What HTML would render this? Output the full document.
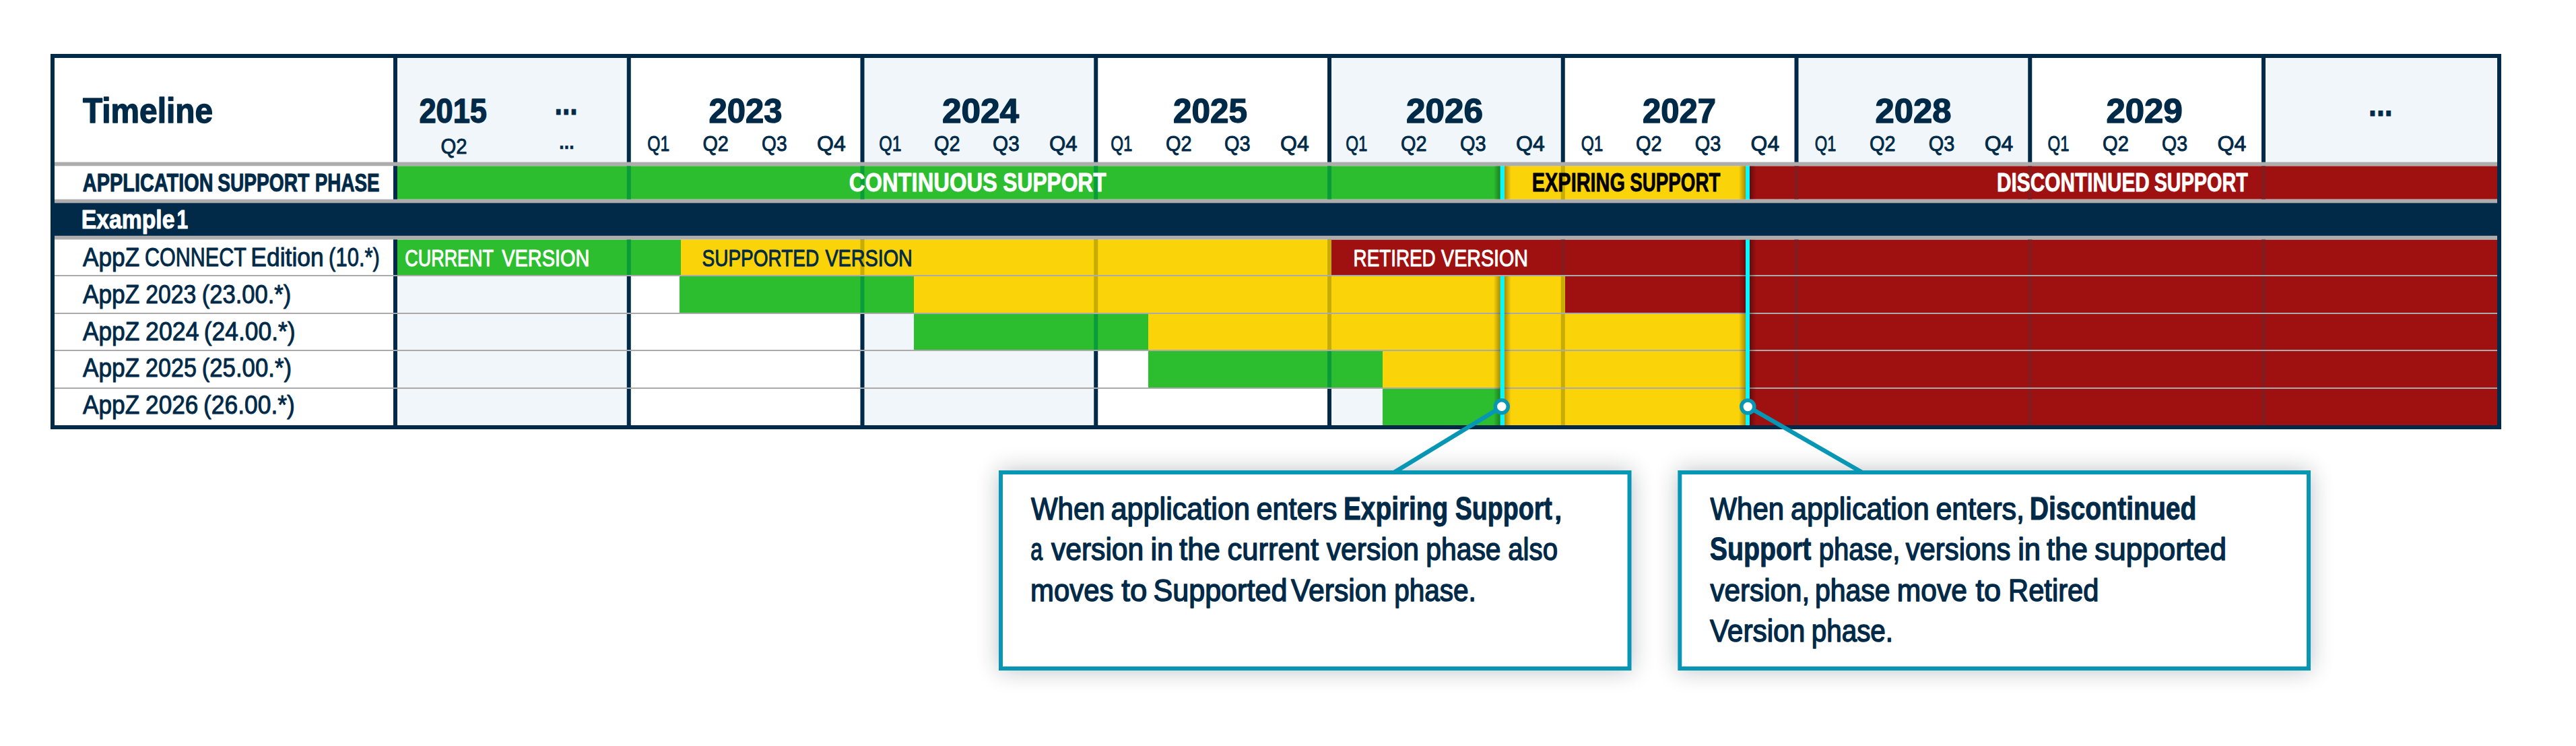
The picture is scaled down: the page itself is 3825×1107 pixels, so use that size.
<!DOCTYPE html>
<html><head><meta charset="utf-8"><title>Timeline</title>
<style>html,body{margin:0;padding:0;background:#fff}svg{display:block}text{font-family:"Liberation Sans",sans-serif;white-space:pre}</style>
</head><body>
<svg width="3825" height="1107" viewBox="0 0 3825 1107">
<rect width="3825" height="1107" fill="#fff"/>
<rect x="584.00" y="86.00" width="346.75" height="545.00" fill="#f1f6fa"/>
<rect x="1277.50" y="86.00" width="346.75" height="545.00" fill="#f1f6fa"/>
<rect x="1971.00" y="86.00" width="346.75" height="545.00" fill="#f1f6fa"/>
<rect x="2664.50" y="86.00" width="346.75" height="545.00" fill="#f1f6fa"/>
<rect x="3358.00" y="86.00" width="350.00" height="545.00" fill="#f1f6fa"/>
<rect x="584.00" y="86.00" width="6.00" height="545.00" fill="#002a48"/>
<rect x="930.75" y="86.00" width="6.00" height="545.00" fill="#002a48"/>
<rect x="1277.50" y="86.00" width="6.00" height="545.00" fill="#002a48"/>
<rect x="1624.25" y="86.00" width="6.00" height="545.00" fill="#002a48"/>
<rect x="1971.00" y="86.00" width="6.00" height="545.00" fill="#002a48"/>
<rect x="2317.75" y="86.00" width="6.00" height="545.00" fill="#002a48"/>
<rect x="2664.50" y="86.00" width="6.00" height="545.00" fill="#002a48"/>
<rect x="3011.25" y="86.00" width="6.00" height="545.00" fill="#002a48"/>
<rect x="3358.00" y="86.00" width="6.00" height="545.00" fill="#002a48"/>
<rect x="590.00" y="246.30" width="1637.80" height="49.40" fill="#2cbe2e"/>
<rect x="930.75" y="246.30" width="6.00" height="49.40" fill="#0a9c3a"/>
<rect x="1277.50" y="246.30" width="6.00" height="49.40" fill="#0a9c3a"/>
<rect x="1624.25" y="246.30" width="6.00" height="49.40" fill="#0a9c3a"/>
<rect x="1971.00" y="246.30" width="6.00" height="49.40" fill="#0a9c3a"/>
<rect x="2233.80" y="246.30" width="358.20" height="49.40" fill="#fad308"/>
<rect x="2317.75" y="246.30" width="6.00" height="49.40" fill="#c8ac06"/>
<rect x="2598.00" y="246.30" width="1110.00" height="49.40" fill="#9f1010"/>
<rect x="2664.50" y="246.30" width="6.00" height="49.40" fill="#871a1d"/>
<rect x="3011.25" y="246.30" width="6.00" height="49.40" fill="#871a1d"/>
<rect x="3358.00" y="246.30" width="6.00" height="49.40" fill="#871a1d"/>
<rect x="590.00" y="355.50" width="421.00" height="52.50" fill="#2cbe2e"/>
<rect x="930.75" y="355.50" width="6.00" height="52.50" fill="#0a9c3a"/>
<rect x="1011.00" y="355.50" width="966.00" height="52.50" fill="#fad308"/>
<rect x="1277.50" y="355.50" width="6.00" height="52.50" fill="#c8ac06"/>
<rect x="1624.25" y="355.50" width="6.00" height="52.50" fill="#c8ac06"/>
<rect x="1971.00" y="355.50" width="6.00" height="52.50" fill="#c8ac06"/>
<rect x="1977.00" y="355.50" width="1731.00" height="52.50" fill="#9f1010"/>
<rect x="2317.75" y="355.50" width="6.00" height="52.50" fill="#871a1d"/>
<rect x="2664.50" y="355.50" width="6.00" height="52.50" fill="#871a1d"/>
<rect x="3011.25" y="355.50" width="6.00" height="52.50" fill="#871a1d"/>
<rect x="3358.00" y="355.50" width="6.00" height="52.50" fill="#871a1d"/>
<rect x="1009.00" y="410.00" width="348.00" height="54.00" fill="#2cbe2e"/>
<rect x="1277.50" y="410.00" width="6.00" height="54.00" fill="#0a9c3a"/>
<rect x="1357.00" y="410.00" width="967.00" height="54.00" fill="#fad308"/>
<rect x="1624.25" y="410.00" width="6.00" height="54.00" fill="#c8ac06"/>
<rect x="1971.00" y="410.00" width="6.00" height="54.00" fill="#c8ac06"/>
<rect x="2317.75" y="410.00" width="6.00" height="54.00" fill="#c8ac06"/>
<rect x="2324.00" y="410.00" width="1384.00" height="54.00" fill="#9f1010"/>
<rect x="2664.50" y="410.00" width="6.00" height="54.00" fill="#871a1d"/>
<rect x="3011.25" y="410.00" width="6.00" height="54.00" fill="#871a1d"/>
<rect x="3358.00" y="410.00" width="6.00" height="54.00" fill="#871a1d"/>
<rect x="1357.00" y="466.00" width="348.00" height="53.00" fill="#2cbe2e"/>
<rect x="1624.25" y="466.00" width="6.00" height="53.00" fill="#0a9c3a"/>
<rect x="1705.00" y="466.00" width="887.00" height="53.00" fill="#fad308"/>
<rect x="1971.00" y="466.00" width="6.00" height="53.00" fill="#c8ac06"/>
<rect x="2317.75" y="466.00" width="6.00" height="53.00" fill="#c8ac06"/>
<rect x="2598.00" y="466.00" width="1110.00" height="53.00" fill="#9f1010"/>
<rect x="2664.50" y="466.00" width="6.00" height="53.00" fill="#871a1d"/>
<rect x="3011.25" y="466.00" width="6.00" height="53.00" fill="#871a1d"/>
<rect x="3358.00" y="466.00" width="6.00" height="53.00" fill="#871a1d"/>
<rect x="1705.00" y="521.00" width="348.00" height="54.00" fill="#2cbe2e"/>
<rect x="1971.00" y="521.00" width="6.00" height="54.00" fill="#0a9c3a"/>
<rect x="2053.00" y="521.00" width="539.00" height="54.00" fill="#fad308"/>
<rect x="2317.75" y="521.00" width="6.00" height="54.00" fill="#c8ac06"/>
<rect x="2598.00" y="521.00" width="1110.00" height="54.00" fill="#9f1010"/>
<rect x="2664.50" y="521.00" width="6.00" height="54.00" fill="#871a1d"/>
<rect x="3011.25" y="521.00" width="6.00" height="54.00" fill="#871a1d"/>
<rect x="3358.00" y="521.00" width="6.00" height="54.00" fill="#871a1d"/>
<rect x="2053.00" y="577.00" width="174.80" height="54.00" fill="#2cbe2e"/>
<rect x="2233.80" y="577.00" width="358.20" height="54.00" fill="#fad308"/>
<rect x="2317.75" y="577.00" width="6.00" height="54.00" fill="#c8ac06"/>
<rect x="2598.00" y="577.00" width="1110.00" height="54.00" fill="#9f1010"/>
<rect x="2664.50" y="577.00" width="6.00" height="54.00" fill="#871a1d"/>
<rect x="3011.25" y="577.00" width="6.00" height="54.00" fill="#871a1d"/>
<rect x="3358.00" y="577.00" width="6.00" height="54.00" fill="#871a1d"/>
<rect x="81.00" y="300.80" width="3627.00" height="49.50" fill="#002a48"/>
<rect x="81.00" y="240.50" width="3627.00" height="5.80" fill="#adadad"/>
<rect x="81.00" y="295.70" width="3627.00" height="5.60" fill="#adadad"/>
<rect x="81.00" y="349.80" width="3627.00" height="5.70" fill="#adadad"/>
<rect x="81.00" y="408.00" width="3627.00" height="2.00" fill="#aaaaaa"/>
<rect x="81.00" y="464.00" width="3627.00" height="2.00" fill="#aaaaaa"/>
<rect x="81.00" y="519.00" width="3627.00" height="2.00" fill="#aaaaaa"/>
<rect x="81.00" y="575.00" width="3627.00" height="2.00" fill="#aaaaaa"/>
<defs>
<linearGradient id="shL" x1="0" x2="1" y1="0" y2="0"><stop offset="0" stop-color="#000" stop-opacity="0"/><stop offset="1" stop-color="#000" stop-opacity="0.34"/></linearGradient>
<linearGradient id="shR" x1="0" x2="1" y1="0" y2="0"><stop offset="0" stop-color="#000" stop-opacity="0.34"/><stop offset="1" stop-color="#000" stop-opacity="0"/></linearGradient>
<filter id="boxsh" x="-10%" y="-25%" width="120%" height="150%"><feGaussianBlur stdDeviation="17"/></filter>
</defs>
<rect x="2217.80" y="246.30" width="10.00" height="49.40" fill="url(#shL)"/>
<rect x="2233.80" y="246.30" width="10.00" height="49.40" fill="url(#shR)"/>
<rect x="2227.80" y="246.30" width="6.00" height="49.40" fill="#04f8fd"/>
<rect x="2217.80" y="410.00" width="10.00" height="221.00" fill="url(#shL)"/>
<rect x="2233.80" y="410.00" width="10.00" height="221.00" fill="url(#shR)"/>
<rect x="2227.80" y="410.00" width="6.00" height="221.00" fill="#04f8fd"/>
<rect x="2582.00" y="246.30" width="10.00" height="49.40" fill="url(#shL)"/>
<rect x="2598.00" y="246.30" width="10.00" height="49.40" fill="url(#shR)"/>
<rect x="2592.00" y="246.30" width="6.00" height="49.40" fill="#04f8fd"/>
<rect x="2582.00" y="355.50" width="10.00" height="275.50" fill="url(#shL)"/>
<rect x="2598.00" y="355.50" width="10.00" height="275.50" fill="url(#shR)"/>
<rect x="2592.00" y="355.50" width="6.00" height="275.50" fill="#04f8fd"/>
<rect x="78" y="83" width="3633" height="551" fill="none" stroke="#002a48" stroke-width="6"/>
<rect x="1483" y="698" width="939.5" height="297" fill="#0a1a2a" opacity="0.27" filter="url(#boxsh)"/>
<rect x="2491.3" y="698" width="939.6999999999998" height="297" fill="#0a1a2a" opacity="0.27" filter="url(#boxsh)"/>
<line x1="2230.5" y1="603.3" x2="2070" y2="701" stroke="#0797b5" stroke-width="6.5"/>
<line x1="2595.5" y1="603.5" x2="2765" y2="701" stroke="#0797b5" stroke-width="6.5"/>
<rect x="1486" y="701" width="933.5" height="291" fill="#fff" stroke="#0797b5" stroke-width="6"/>
<rect x="2494.3" y="701" width="933.6999999999998" height="291" fill="#fff" stroke="#0797b5" stroke-width="6"/>
<circle cx="2229.8" cy="603.3" r="9.5" fill="#fff" stroke="#0797b5" stroke-width="5.5"/>
<circle cx="2595.3" cy="603.5" r="9.5" fill="#fff" stroke="#0797b5" stroke-width="5.5"/>
<text transform="translate(122.90,182.40) scale(0.9350,1)" font-weight="700" font-size="51.16" fill="#002a48" stroke="#002a48" stroke-width="1.4" stroke-linejoin="round">Timeline</text>
<text transform="translate(622.39,182.30) scale(0.9055,1)" font-weight="700" font-size="49.93" fill="#002a48" stroke="#002a48" stroke-width="1.4" stroke-linejoin="round">2015</text>
<text transform="translate(1052.42,182.30) scale(0.9817,1)" font-weight="700" font-size="49.93" fill="#002a48" stroke="#002a48" stroke-width="1.4" stroke-linejoin="round">2023</text>
<text transform="translate(1398.97,182.30) scale(1.0273,1)" font-weight="700" font-size="49.93" fill="#002a48" stroke="#002a48" stroke-width="1.4" stroke-linejoin="round">2024</text>
<text transform="translate(1742.01,182.30) scale(0.9908,1)" font-weight="700" font-size="49.93" fill="#002a48" stroke="#002a48" stroke-width="1.4" stroke-linejoin="round">2025</text>
<text transform="translate(2087.97,182.30) scale(1.0275,1)" font-weight="700" font-size="49.93" fill="#002a48" stroke="#002a48" stroke-width="1.4" stroke-linejoin="round">2026</text>
<text transform="translate(2439.02,182.30) scale(0.9817,1)" font-weight="700" font-size="49.93" fill="#002a48" stroke="#002a48" stroke-width="1.4" stroke-linejoin="round">2027</text>
<text transform="translate(2784.48,182.30) scale(1.0183,1)" font-weight="700" font-size="49.93" fill="#002a48" stroke="#002a48" stroke-width="1.4" stroke-linejoin="round">2028</text>
<text transform="translate(3127.48,182.30) scale(1.0202,1)" font-weight="700" font-size="49.93" fill="#002a48" stroke="#002a48" stroke-width="1.4" stroke-linejoin="round">2029</text>
<text transform="translate(823.58,169.50) scale(0.8056,1)" font-weight="700" font-size="50.87" fill="#002a48" stroke="#002a48" stroke-width="1.0" stroke-linejoin="round">...</text>
<text transform="translate(3517.09,171.50) scale(0.8361,1)" font-weight="700" font-size="50.87" fill="#002a48" stroke="#002a48" stroke-width="1.0" stroke-linejoin="round">...</text>
<text transform="translate(654.56,228.25) scale(0.9375,1)" font-weight="400" font-size="31.29" fill="#002a48" stroke="#002a48" stroke-width="0.9" stroke-linejoin="round">Q2</text>
<text transform="translate(830.35,220.70) scale(0.8261,1)" font-weight="700" font-size="32.27" fill="#002a48" stroke="#002a48" stroke-width="0.6" stroke-linejoin="round">...</text>
<text transform="translate(961.21,224.15) scale(0.7900,1)" font-weight="400" font-size="31.29" fill="#002a48" stroke="#002a48" stroke-width="0.9" stroke-linejoin="round">Q1</text>
<text transform="translate(1043.38,224.15) scale(0.9225,1)" font-weight="400" font-size="31.29" fill="#002a48" stroke="#002a48" stroke-width="0.9" stroke-linejoin="round">Q2</text>
<text transform="translate(1131.10,224.15) scale(0.9000,1)" font-weight="400" font-size="31.29" fill="#002a48" stroke="#002a48" stroke-width="0.9" stroke-linejoin="round">Q3</text>
<text transform="translate(1212.97,224.15) scale(1.0250,1)" font-weight="400" font-size="31.29" fill="#002a48" stroke="#002a48" stroke-width="0.9" stroke-linejoin="round">Q4</text>
<text transform="translate(1305.20,224.15) scale(0.8000,1)" font-weight="400" font-size="31.29" fill="#002a48" stroke="#002a48" stroke-width="0.9" stroke-linejoin="round">Q1</text>
<text transform="translate(1387.08,224.15) scale(0.9250,1)" font-weight="400" font-size="31.29" fill="#002a48" stroke="#002a48" stroke-width="0.9" stroke-linejoin="round">Q2</text>
<text transform="translate(1474.05,224.15) scale(0.9500,1)" font-weight="400" font-size="31.29" fill="#002a48" stroke="#002a48" stroke-width="0.9" stroke-linejoin="round">Q3</text>
<text transform="translate(1558.00,224.15) scale(1.0000,1)" font-weight="400" font-size="31.29" fill="#002a48" stroke="#002a48" stroke-width="0.9" stroke-linejoin="round">Q4</text>
<text transform="translate(1649.22,224.15) scale(0.7750,1)" font-weight="400" font-size="31.29" fill="#002a48" stroke="#002a48" stroke-width="0.9" stroke-linejoin="round">Q1</text>
<text transform="translate(1731.08,224.15) scale(0.9250,1)" font-weight="400" font-size="31.29" fill="#002a48" stroke="#002a48" stroke-width="0.9" stroke-linejoin="round">Q2</text>
<text transform="translate(1818.08,224.15) scale(0.9250,1)" font-weight="400" font-size="31.29" fill="#002a48" stroke="#002a48" stroke-width="0.9" stroke-linejoin="round">Q3</text>
<text transform="translate(1900.97,224.15) scale(1.0250,1)" font-weight="400" font-size="31.29" fill="#002a48" stroke="#002a48" stroke-width="0.9" stroke-linejoin="round">Q4</text>
<text transform="translate(1998.22,224.15) scale(0.7750,1)" font-weight="400" font-size="31.29" fill="#002a48" stroke="#002a48" stroke-width="0.9" stroke-linejoin="round">Q1</text>
<text transform="translate(2080.07,224.15) scale(0.9250,1)" font-weight="400" font-size="31.29" fill="#002a48" stroke="#002a48" stroke-width="0.9" stroke-linejoin="round">Q2</text>
<text transform="translate(2168.07,224.15) scale(0.9250,1)" font-weight="400" font-size="31.29" fill="#002a48" stroke="#002a48" stroke-width="0.9" stroke-linejoin="round">Q3</text>
<text transform="translate(2250.97,224.15) scale(1.0250,1)" font-weight="400" font-size="31.29" fill="#002a48" stroke="#002a48" stroke-width="0.9" stroke-linejoin="round">Q4</text>
<text transform="translate(2347.71,224.15) scale(0.7875,1)" font-weight="400" font-size="31.29" fill="#002a48" stroke="#002a48" stroke-width="0.9" stroke-linejoin="round">Q1</text>
<text transform="translate(2429.07,224.15) scale(0.9250,1)" font-weight="400" font-size="31.29" fill="#002a48" stroke="#002a48" stroke-width="0.9" stroke-linejoin="round">Q2</text>
<text transform="translate(2516.68,224.15) scale(0.9225,1)" font-weight="400" font-size="31.29" fill="#002a48" stroke="#002a48" stroke-width="0.9" stroke-linejoin="round">Q3</text>
<text transform="translate(2599.58,224.15) scale(1.0200,1)" font-weight="400" font-size="31.29" fill="#002a48" stroke="#002a48" stroke-width="0.9" stroke-linejoin="round">Q4</text>
<text transform="translate(2694.84,224.15) scale(0.7600,1)" font-weight="400" font-size="31.29" fill="#002a48" stroke="#002a48" stroke-width="0.9" stroke-linejoin="round">Q1</text>
<text transform="translate(2776.07,224.15) scale(0.9250,1)" font-weight="400" font-size="31.29" fill="#002a48" stroke="#002a48" stroke-width="0.9" stroke-linejoin="round">Q2</text>
<text transform="translate(2863.68,224.15) scale(0.9225,1)" font-weight="400" font-size="31.29" fill="#002a48" stroke="#002a48" stroke-width="0.9" stroke-linejoin="round">Q3</text>
<text transform="translate(2946.67,224.15) scale(1.0250,1)" font-weight="400" font-size="31.29" fill="#002a48" stroke="#002a48" stroke-width="0.9" stroke-linejoin="round">Q4</text>
<text transform="translate(3040.53,224.15) scale(0.7675,1)" font-weight="400" font-size="31.29" fill="#002a48" stroke="#002a48" stroke-width="0.9" stroke-linejoin="round">Q1</text>
<text transform="translate(3122.07,224.15) scale(0.9325,1)" font-weight="400" font-size="31.29" fill="#002a48" stroke="#002a48" stroke-width="0.9" stroke-linejoin="round">Q2</text>
<text transform="translate(3210.09,224.15) scale(0.9125,1)" font-weight="400" font-size="31.29" fill="#002a48" stroke="#002a48" stroke-width="0.9" stroke-linejoin="round">Q3</text>
<text transform="translate(3292.57,224.15) scale(1.0275,1)" font-weight="400" font-size="31.29" fill="#002a48" stroke="#002a48" stroke-width="0.9" stroke-linejoin="round">Q4</text>
<text transform="translate(122.84,283.50) scale(0.7648,1)" font-weight="700" font-size="37.79" fill="#002a48" stroke="#002a48" stroke-width="1.0" stroke-linejoin="round">APPLICATION</text>
<text transform="translate(323.15,283.50) scale(0.7456,1)" font-weight="700" font-size="37.79" fill="#002a48" stroke="#002a48" stroke-width="1.0" stroke-linejoin="round">SUPPORT</text>
<text transform="translate(467.73,283.50) scale(0.7370,1)" font-weight="700" font-size="37.79" fill="#002a48" stroke="#002a48" stroke-width="1.0" stroke-linejoin="round">PHASE</text>
<text transform="translate(120.63,339.10) scale(0.8832,1)" font-weight="700" font-size="38.23" fill="#fff" stroke="#fff" stroke-width="1.0" stroke-linejoin="round">Example</text>
<text transform="translate(262.53,339.10) scale(0.7842,1)" font-weight="700" font-size="38.23" fill="#fff" stroke="#fff" stroke-width="1.0" stroke-linejoin="round">1</text>
<text transform="translate(122.90,395.40) scale(0.9054,1)" font-weight="400" font-size="38.95" fill="#002a48" stroke="#002a48" stroke-width="1.0" stroke-linejoin="round">AppZ</text>
<text transform="translate(215.02,395.40) scale(0.7832,1)" font-weight="400" font-size="38.95" fill="#002a48" stroke="#002a48" stroke-width="1.0" stroke-linejoin="round">CONNECT</text>
<text transform="translate(372.37,395.40) scale(0.9105,1)" font-weight="400" font-size="38.95" fill="#002a48" stroke="#002a48" stroke-width="1.0" stroke-linejoin="round">Edition</text>
<text transform="translate(488.11,395.40) scale(0.7956,1)" font-weight="400" font-size="38.95" fill="#002a48" stroke="#002a48" stroke-width="1.0" stroke-linejoin="round">(10.*)</text>
<text transform="translate(122.90,450.00) scale(0.9054,1)" font-weight="400" font-size="38.95" fill="#002a48" stroke="#002a48" stroke-width="1.0" stroke-linejoin="round">AppZ</text>
<text transform="translate(216.13,450.00) scale(0.8659,1)" font-weight="400" font-size="38.95" fill="#002a48" stroke="#002a48" stroke-width="1.0" stroke-linejoin="round">2023</text>
<text transform="translate(299.72,450.00) scale(0.8877,1)" font-weight="400" font-size="38.95" fill="#002a48" stroke="#002a48" stroke-width="1.0" stroke-linejoin="round">(23.00.*)</text>
<text transform="translate(122.90,504.60) scale(0.9054,1)" font-weight="400" font-size="38.95" fill="#002a48" stroke="#002a48" stroke-width="1.0" stroke-linejoin="round">AppZ</text>
<text transform="translate(216.08,504.60) scale(0.9176,1)" font-weight="400" font-size="38.95" fill="#002a48" stroke="#002a48" stroke-width="1.0" stroke-linejoin="round">2024</text>
<text transform="translate(302.78,504.60) scale(0.9096,1)" font-weight="400" font-size="38.95" fill="#002a48" stroke="#002a48" stroke-width="1.0" stroke-linejoin="round">(24.00.*)</text>
<text transform="translate(122.90,559.40) scale(0.9054,1)" font-weight="400" font-size="38.95" fill="#002a48" stroke="#002a48" stroke-width="1.0" stroke-linejoin="round">AppZ</text>
<text transform="translate(216.12,559.40) scale(0.8753,1)" font-weight="400" font-size="38.95" fill="#002a48" stroke="#002a48" stroke-width="1.0" stroke-linejoin="round">2025</text>
<text transform="translate(299.72,559.40) scale(0.8925,1)" font-weight="400" font-size="38.95" fill="#002a48" stroke="#002a48" stroke-width="1.0" stroke-linejoin="round">(25.00.*)</text>
<text transform="translate(122.90,613.70) scale(0.9054,1)" font-weight="400" font-size="38.95" fill="#002a48" stroke="#002a48" stroke-width="1.0" stroke-linejoin="round">AppZ</text>
<text transform="translate(216.10,613.70) scale(0.9035,1)" font-weight="400" font-size="38.95" fill="#002a48" stroke="#002a48" stroke-width="1.0" stroke-linejoin="round">2026</text>
<text transform="translate(302.08,613.70) scale(0.9089,1)" font-weight="400" font-size="38.95" fill="#002a48" stroke="#002a48" stroke-width="1.0" stroke-linejoin="round">(26.00.*)</text>
<text transform="translate(1260.85,283.60) scale(0.8531,1)" font-weight="700" font-size="38.37" fill="#fff" stroke="#fff" stroke-width="0.8" stroke-linejoin="round">CONTINUOUS</text>
<text transform="translate(1489.37,283.60) scale(0.8265,1)" font-weight="700" font-size="38.37" fill="#fff" stroke="#fff" stroke-width="0.8" stroke-linejoin="round">SUPPORT</text>
<text transform="translate(2274.79,283.60) scale(0.7536,1)" font-weight="700" font-size="38.37" fill="#000" stroke="#000" stroke-width="0.8" stroke-linejoin="round">EXPIRING</text>
<text transform="translate(2420.18,283.60) scale(0.7238,1)" font-weight="700" font-size="38.37" fill="#000" stroke="#000" stroke-width="0.8" stroke-linejoin="round">SUPPORT</text>
<text transform="translate(2964.95,283.60) scale(0.7772,1)" font-weight="700" font-size="38.37" fill="#fff" stroke="#fff" stroke-width="0.8" stroke-linejoin="round">DISCONTINUED</text>
<text transform="translate(3198.65,283.60) scale(0.7503,1)" font-weight="700" font-size="38.37" fill="#fff" stroke="#fff" stroke-width="0.8" stroke-linejoin="round">SUPPORT</text>
<text transform="translate(601.25,394.55) scale(0.7540,1)" font-weight="400" font-size="35.76" fill="#fff" stroke="#fff" stroke-width="1.1" stroke-linejoin="round">CURRENT</text>
<text transform="translate(745.30,394.55) scale(0.8082,1)" font-weight="400" font-size="35.76" fill="#fff" stroke="#fff" stroke-width="1.1" stroke-linejoin="round">VERSION</text>
<text transform="translate(1042.52,394.60) scale(0.7801,1)" font-weight="400" font-size="35.9" fill="#002a48" stroke="#002a48" stroke-width="1.0" stroke-linejoin="round">SUPPORTED</text>
<text transform="translate(1225.40,394.60) scale(0.8019,1)" font-weight="400" font-size="35.9" fill="#002a48" stroke="#002a48" stroke-width="1.0" stroke-linejoin="round">VERSION</text>
<text transform="translate(2009.54,394.55) scale(0.7786,1)" font-weight="400" font-size="35.76" fill="#fff" stroke="#fff" stroke-width="1.1" stroke-linejoin="round">RETIRED</text>
<text transform="translate(2140.10,394.55) scale(0.8000,1)" font-weight="400" font-size="35.76" fill="#fff" stroke="#fff" stroke-width="1.1" stroke-linejoin="round">VERSION</text>
<text transform="translate(1531.00,770.55) scale(0.8992,1)" font-weight="400" font-size="46.66" fill="#002a48" stroke="#002a48" stroke-width="1.5" stroke-linejoin="round">When</text>
<text transform="translate(1649.58,770.55) scale(0.9250,1)" font-weight="400" font-size="46.66" fill="#002a48" stroke="#002a48" stroke-width="1.5" stroke-linejoin="round">application</text>
<text transform="translate(1865.58,770.55) scale(0.9242,1)" font-weight="400" font-size="46.66" fill="#002a48" stroke="#002a48" stroke-width="1.5" stroke-linejoin="round">enters</text>
<text transform="translate(1994.94,770.80) scale(0.8201,1)" font-weight="700" font-size="47.38" fill="#002a48" stroke="#002a48" stroke-width="1.0" stroke-linejoin="round">Expiring</text>
<text transform="translate(2160.71,770.80) scale(0.7939,1)" font-weight="700" font-size="47.38" fill="#002a48" stroke="#002a48" stroke-width="1.0" stroke-linejoin="round">Support</text>
<text transform="translate(2306.67,770.55) scale(1.0833,1)" font-weight="400" font-size="46.66" fill="#002a48" stroke="#002a48" stroke-width="1.5" stroke-linejoin="round">,</text>
<text transform="translate(1530.31,831.15) scale(0.6885,1)" font-weight="400" font-size="46.66" fill="#002a48" stroke="#002a48" stroke-width="1.5" stroke-linejoin="round">a</text>
<text transform="translate(1560.90,831.15) scale(0.9135,1)" font-weight="400" font-size="46.66" fill="#002a48" stroke="#002a48" stroke-width="1.5" stroke-linejoin="round">version</text>
<text transform="translate(1708.44,831.15) scale(0.9312,1)" font-weight="400" font-size="46.66" fill="#002a48" stroke="#002a48" stroke-width="1.5" stroke-linejoin="round">in</text>
<text transform="translate(1751.10,831.15) scale(0.9344,1)" font-weight="400" font-size="46.66" fill="#002a48" stroke="#002a48" stroke-width="1.5" stroke-linejoin="round">the</text>
<text transform="translate(1822.57,831.15) scale(0.9324,1)" font-weight="400" font-size="46.66" fill="#002a48" stroke="#002a48" stroke-width="1.5" stroke-linejoin="round">current</text>
<text transform="translate(1969.70,831.15) scale(0.9135,1)" font-weight="400" font-size="46.66" fill="#002a48" stroke="#002a48" stroke-width="1.5" stroke-linejoin="round">version</text>
<text transform="translate(2117.35,831.15) scale(0.8742,1)" font-weight="400" font-size="46.66" fill="#002a48" stroke="#002a48" stroke-width="1.5" stroke-linejoin="round">phase</text>
<text transform="translate(2239.24,831.15) scale(0.8619,1)" font-weight="400" font-size="46.66" fill="#002a48" stroke="#002a48" stroke-width="1.5" stroke-linejoin="round">also</text>
<text transform="translate(1530.11,891.75) scale(0.8970,1)" font-weight="400" font-size="46.66" fill="#002a48" stroke="#002a48" stroke-width="1.5" stroke-linejoin="round">moves</text>
<text transform="translate(1665.30,891.75) scale(0.9763,1)" font-weight="400" font-size="46.66" fill="#002a48" stroke="#002a48" stroke-width="1.5" stroke-linejoin="round">to</text>
<text transform="translate(1712.45,891.75) scale(0.9242,1)" font-weight="400" font-size="46.66" fill="#002a48" stroke="#002a48" stroke-width="1.5" stroke-linejoin="round">Supported</text>
<text transform="translate(1916.90,891.75) scale(0.9143,1)" font-weight="400" font-size="46.66" fill="#002a48" stroke="#002a48" stroke-width="1.5" stroke-linejoin="round">Version</text>
<text transform="translate(2070.16,891.75) scale(0.8689,1)" font-weight="400" font-size="46.66" fill="#002a48" stroke="#002a48" stroke-width="1.5" stroke-linejoin="round">phase.</text>
<text transform="translate(2539.50,770.55) scale(0.8992,1)" font-weight="400" font-size="46.66" fill="#002a48" stroke="#002a48" stroke-width="1.5" stroke-linejoin="round">When</text>
<text transform="translate(2658.98,770.55) scale(0.9223,1)" font-weight="400" font-size="46.66" fill="#002a48" stroke="#002a48" stroke-width="1.5" stroke-linejoin="round">application</text>
<text transform="translate(2874.38,770.55) scale(0.9232,1)" font-weight="400" font-size="46.66" fill="#002a48" stroke="#002a48" stroke-width="1.5" stroke-linejoin="round">enters,</text>
<text transform="translate(3013.72,770.80) scale(0.8259,1)" font-weight="700" font-size="47.38" fill="#002a48" stroke="#002a48" stroke-width="1.0" stroke-linejoin="round">Discontinued</text>
<text transform="translate(2538.67,831.40) scale(0.8304,1)" font-weight="700" font-size="47.38" fill="#002a48" stroke="#002a48" stroke-width="1.0" stroke-linejoin="round">Support</text>
<text transform="translate(2700.68,831.15) scale(0.8615,1)" font-weight="400" font-size="46.66" fill="#002a48" stroke="#002a48" stroke-width="1.5" stroke-linejoin="round">phase,</text>
<text transform="translate(2829.70,831.15) scale(0.8965,1)" font-weight="400" font-size="46.66" fill="#002a48" stroke="#002a48" stroke-width="1.5" stroke-linejoin="round">versions</text>
<text transform="translate(2996.13,831.15) scale(0.9344,1)" font-weight="400" font-size="46.66" fill="#002a48" stroke="#002a48" stroke-width="1.5" stroke-linejoin="round">in</text>
<text transform="translate(3038.90,831.15) scale(0.9422,1)" font-weight="400" font-size="46.66" fill="#002a48" stroke="#002a48" stroke-width="1.5" stroke-linejoin="round">the</text>
<text transform="translate(3110.26,831.15) scale(0.9431,1)" font-weight="400" font-size="46.66" fill="#002a48" stroke="#002a48" stroke-width="1.5" stroke-linejoin="round">supported</text>
<text transform="translate(2539.50,891.75) scale(0.9044,1)" font-weight="400" font-size="46.66" fill="#002a48" stroke="#002a48" stroke-width="1.5" stroke-linejoin="round">version,</text>
<text transform="translate(2694.95,891.75) scale(0.8774,1)" font-weight="400" font-size="46.66" fill="#002a48" stroke="#002a48" stroke-width="1.5" stroke-linejoin="round">phase</text>
<text transform="translate(2816.87,891.75) scale(0.9126,1)" font-weight="400" font-size="46.66" fill="#002a48" stroke="#002a48" stroke-width="1.5" stroke-linejoin="round">move</text>
<text transform="translate(2933.50,891.75) scale(0.9684,1)" font-weight="400" font-size="46.66" fill="#002a48" stroke="#002a48" stroke-width="1.5" stroke-linejoin="round">to</text>
<text transform="translate(2982.12,891.75) scale(0.8931,1)" font-weight="400" font-size="46.66" fill="#002a48" stroke="#002a48" stroke-width="1.5" stroke-linejoin="round">Retired</text>
<text transform="translate(2538.90,952.35) scale(0.9084,1)" font-weight="400" font-size="46.66" fill="#002a48" stroke="#002a48" stroke-width="1.5" stroke-linejoin="round">Version</text>
<text transform="translate(2689.67,952.35) scale(0.8667,1)" font-weight="400" font-size="46.66" fill="#002a48" stroke="#002a48" stroke-width="1.5" stroke-linejoin="round">phase.</text>
</svg>
</body></html>
